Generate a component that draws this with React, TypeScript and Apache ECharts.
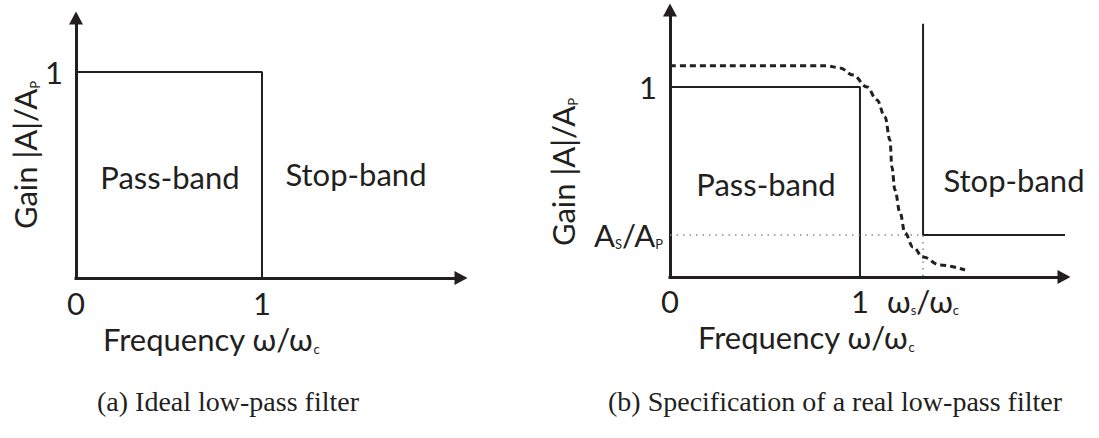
import React, { useEffect, useRef } from "react";
import * as echarts from "echarts";

const INK = "#231f20";
const FONT = 'Lato, "Open Sans", sans-serif';
const SERIF = '"Liberation Serif", "DejaVu Serif", serif';

// (a) ideal low-pass filter: normalised gain vs normalised frequency
const idealPassBand: number[][] = [
  [0, 1],
  [1, 1],
  [1, 0],
];

// (b) real filter specification
const passGain = 1;
const stopGain = 0.221; // A_S / A_P
const stopFreq = 1.332; // ω_s / ω_c
const realPassBand: number[][] = [
  [0, passGain],
  [1, passGain],
  [1, 0],
];
const stopBandMask: number[][] = [
  [stopFreq, 1.332],
  [stopFreq, stopGain],
  [2.11, stopGain],
];
const stopGuide: number[][] = [
  [0, stopGain],
  [stopFreq, stopGain],
  [stopFreq, 0],
];
const realResponse: number[][] = [
  [0, 1.111],
  [0.826, 1.111],
  [0.895, 1.1],
  [0.963, 1.063],
  [1.037, 1.0],
  [1.089, 0.932],
  [1.132, 0.842],
  [1.158, 0.721],
  [1.168, 0.579],
  [1.184, 0.458],
  [1.211, 0.337],
  [1.237, 0.232],
  [1.279, 0.158],
  [1.332, 0.105],
  [1.421, 0.063],
  [1.553, 0.037],
];

const leftTicksX = [0, 1];
const leftTicksY = [1];
const rightTicksX = [0, 1, stopFreq];
const rightTicksY = [stopGain, passGain];

const sub = { fontSize: 13, fontFamily: FONT, color: INK, verticalAlign: "bottom", lineHeight: 13 } as any;

const axisLineStyle = {
  show: true,
  onZero: false,
  symbol: ["none", "triangle"],
  symbolSize: [14, 13],
  lineStyle: { color: INK, width: 3, cap: "square" },
};

function makeAxis(max: number, ticks: number[], fmt: (v: number) => string, margin: number) {
  return {
    type: "value",
    min: 0,
    max,
    splitLine: { show: false },
    axisTick: { show: false },
    axisLine: axisLineStyle,
    axisLabel: {
      customValues: ticks,
      formatter: fmt,
      margin,
      color: INK,
      fontSize: 31,
      lineHeight: 30,
      fontFamily: FONT,
      rich: {
        sub,
        one: { fontSize: 31, fontFamily: FONT, color: INK, padding: [0, 6, 0, 0] },
        w: { fontSize: 31, fontFamily: FONT, color: INK, lineHeight: 30 },
      },
    },
  };
}

function solid(xi: number, data: number[][]) {
  return {
    type: "line",
    xAxisIndex: xi,
    yAxisIndex: xi,
    data,
    symbol: "none",
    clip: false,
    lineStyle: { color: INK, width: 2 },
  };
}

export default function App() {
  const ref = useRef<HTMLDivElement>(null);

  useEffect(() => {
    if (!ref.current) return;
    const chart = echarts.init(ref.current, undefined, { renderer: "svg" });
    const txt = (text: string, x: number, y: number, opts: any = {}) => ({
      type: "text",
      x,
      y,
      rotation: opts.rotation || 0,
      style: {
        text,
        fill: INK,
        fontSize: opts.fontSize || 31,
        fontFamily: opts.fontFamily || FONT,
        align: opts.align || "center",
        verticalAlign: "middle",
        lineHeight: opts.lineHeight || 32,
        rich: { sub: { ...sub, fill: INK } },
      },
    });

    chart.setOption({
      animation: false,
      backgroundColor: "#ffffff",
      grid: [
        { left: 76, top: 18, width: 385, height: 260 },
        { left: 670, top: 10, width: 394, height: 267 },
      ],
      xAxis: [
        makeAxis(2.07, leftTicksX, (v: number) => String(v), 10),
        makeAxis(
          2.074,
          rightTicksX,
          (v: number) => (v === 0 ? "0" : v === 1 ? "1" : "{w|ω}{sub|s}{w|/ω}{sub|c}"),
          9
        ),
      ].map((a: any, i) => ({ ...a, gridIndex: i })),
      yAxis: [
        makeAxis(1.262, leftTicksY, () => "1", 13),
        makeAxis(1.405, rightTicksY, (v: number) => (v === 1 ? "{one|1}" : "A{sub|S}/A{sub|P}"), 7),
      ].map((a: any, i) => ({ ...a, gridIndex: i })),
      series: [
        solid(0, idealPassBand),
        solid(1, realPassBand),
        solid(1, stopBandMask),
        {
          type: "line",
          xAxisIndex: 1,
          yAxisIndex: 1,
          data: stopGuide,
          symbol: "none",
          clip: false,
          lineStyle: { color: "#8a8a8a", width: 1.5, type: [1.5, 5] },
        },
        {
          type: "line",
          xAxisIndex: 1,
          yAxisIndex: 1,
          data: realResponse,
          symbol: "none",
          smooth: 0.4,
          smoothMonotone: "x",
          clip: false,
          lineStyle: { color: INK, width: 3, type: [6, 4] },
        },
      ],
      graphic: [
        txt("Gain |A|/A{sub|P}", 25, 155, { rotation: Math.PI / 2 }),
        txt("Gain |A|/A{sub|P}", 563, 172, { rotation: Math.PI / 2 }),
        txt("Pass-band", 170, 177),
        txt("Stop-band", 356, 174),
        txt("Pass-band", 766, 184),
        txt("Stop-band", 1014, 180),
        txt("Frequency ω/ω{sub|c}", 103, 339, { align: "left" }),
        txt("Frequency ω/ω{sub|c}", 698, 337, { align: "left" }),
        txt("(a) Ideal low-pass filter", 228, 401, { fontFamily: SERIF, fontSize: 28 }),
        txt("(b) Specification of a real low-pass filter", 835, 401, { fontFamily: SERIF, fontSize: 28 }),
      ],
    });
    return () => chart.dispose();
  }, []);

  return (
    <div
      ref={ref}
      style={{ position: "absolute", left: 0, top: 0, width: 1099, height: 438, background: "#fff" }}
    />
  );
}
